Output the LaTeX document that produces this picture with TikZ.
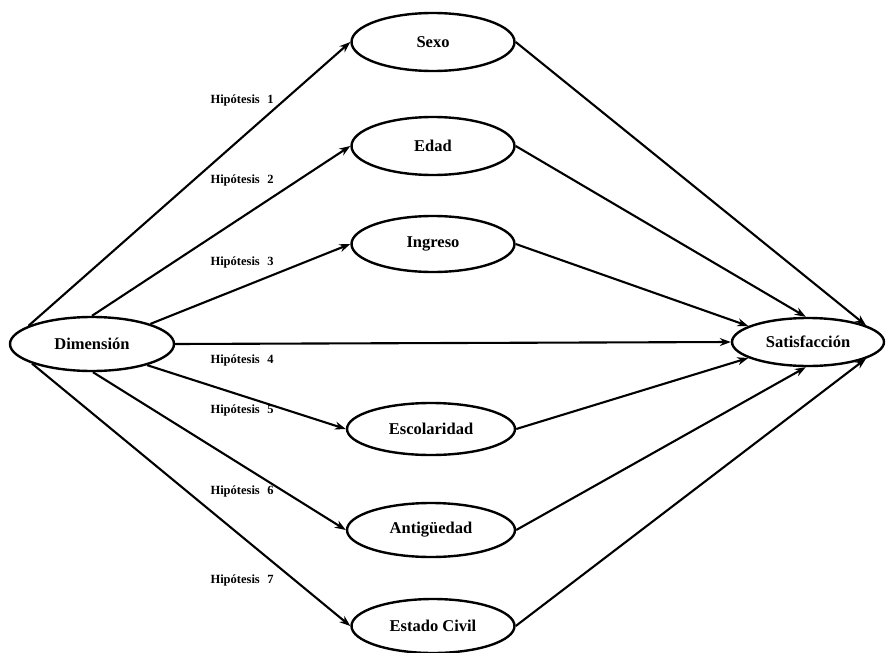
\documentclass[tikz,border=0pt]{standalone}
\usepackage{fontspec}
\setmainfont{Liberation Serif}
\usetikzlibrary{arrows.meta,shapes.geometric}
\begin{document}
\begin{tikzpicture}[x=1pt,y=-1pt,
  var/.style={ellipse,draw,line width=2.4pt,inner sep=0pt,
    font=\fontsize{16.5}{18}\selectfont\bfseries},
  link/.style={line width=2.1pt,-{Stealth[length=11pt,width=8pt]}},
  hyp/.style={font=\fontsize{12.5}{14}\selectfont\bfseries,anchor=west}]
\path[use as bounding box] (0,0) rectangle (886,653);

% independent variable and outcome
\node[var,minimum width=164pt,minimum height=54pt] (dim) at (92,344) {Dimensión};
\node[var,minimum width=152pt,minimum height=48pt] (sat) at (808,342) {Satisfacción};

% mediating variables
\node[var,minimum width=163pt,minimum height=58pt] (sexo)   at (433,42)  {Sexo};
\node[var,minimum width=163pt,minimum height=58pt] (edad)   at (433,146) {Edad};
\node[var,minimum width=163pt,minimum height=56pt] (ingr)   at (433,244) {Ingreso};
\node[var,minimum width=168pt,minimum height=52pt] (escol)  at (431,429) {Escolaridad};
\node[var,minimum width=168pt,minimum height=54pt] (antig)  at (431,530) {Antigüedad};
\node[var,minimum width=163pt,minimum height=54pt] (estado) at (433,626) {Estado Civil};

% paths from Dimensión
\draw[link] (dim.164) -- (sexo.west);
\draw[link] (dim.90)  -- (edad.west);
\draw[link] (dim.19)  -- (ingr.west);
\draw[link] (dim.east) -- (sat.west);
\draw[link] (dim.-21) -- (escol.west);
\draw[link] (dim.-88) -- (antig.west);
\draw[link] (dim.198) -- (estado.west);

% paths into Satisfacción
\draw[link] (sexo.east)   -- (sat.16);
\draw[link] (edad.east)   -- (sat.95);
\draw[link] (ingr.east)   -- (sat.165);
\draw[link] (escol.east)  -- (sat.195);
\draw[link] (antig.east)  -- (sat.-95);
\draw[link] (estado.east) -- (sat.-16);

% hypothesis labels
\node[hyp] (h1) at (207,100) {Hipótesis\hspace{0.6em}1};
\node[hyp] (h2) at (207,180) {Hipótesis\hspace{0.6em}2};
\node[hyp] (h3) at (207,262) {Hipótesis\hspace{0.6em}3};
\node[hyp] (h4) at (207,360) {Hipótesis\hspace{0.6em}4};
\node[hyp] (h5) at (207,410) {Hipótesis\hspace{0.6em}5};
\node[hyp] (h6) at (207,491) {Hipótesis\hspace{0.6em}6};
\node[hyp] (h7) at (207,580) {Hipótesis\hspace{0.6em}7};
\end{tikzpicture}
\end{document}
